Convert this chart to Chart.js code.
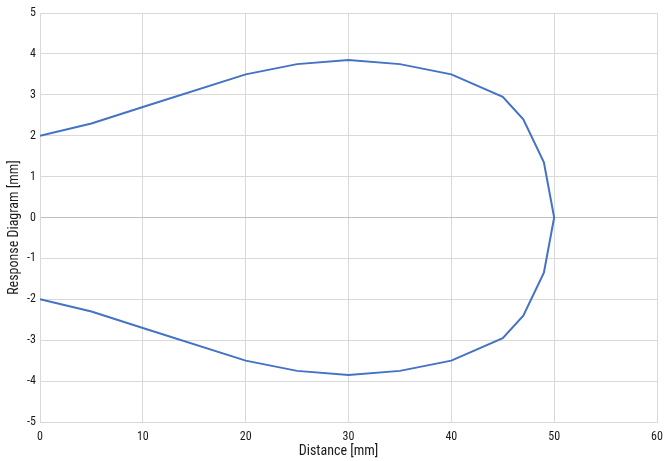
<!DOCTYPE html>
<html><head><meta charset="utf-8">
<script src="https://cdn.jsdelivr.net/npm/chart.js@4/dist/chart.umd.min.js"></script>
<style>html,body{margin:0;padding:0;background:#fff}#wrap{width:664px;height:461px}</style>
</head><body><div id="wrap"><canvas id="c" width="664" height="461"></canvas></div>
<script>
const distance = [0, 5, 10, 20, 25, 30, 35, 40, 45, 47, 49, 50, 49, 47, 45, 40, 35, 30, 25, 20, 10, 5, 0];
const response = [2, 2.3, 2.7, 3.5, 3.75, 3.85, 3.75, 3.5, 2.95, 2.4, 1.35, 0, -1.35, -2.4, -2.95, -3.5, -3.75, -3.85, -3.75, -3.5, -2.7, -2.3, -2];
const xTitle = 'Distance [mm]';
const yTitle = 'Response Diagram [mm]';
const FONT = '"Roboto Condensed", "Liberation Sans Narrow", Roboto, sans-serif';
const TXT = '#1a1a1a';
const pts = distance.map((d, i) => ({x: d, y: response[i]}));
const titlePlugin = {
  id: 'axisTitles',
  afterDraw(chart) {
    const ctx = chart.ctx, a = chart.chartArea;
    ctx.save();
    ctx.fillStyle = TXT;
    ctx.font = '14px ' + FONT;
    ctx.textAlign = 'center';
    ctx.textBaseline = 'middle';
    ctx.fillText(xTitle, (a.left + a.right) / 2 - 10, a.bottom + 29);
    ctx.translate(14, (a.top + a.bottom) / 2 + 10);
    ctx.rotate(-Math.PI / 2);
    ctx.fillText(yTitle, 0, 0);
    ctx.restore();
  }
};
new Chart(document.getElementById('c'), {
  type: 'scatter',
  data: {datasets: [{data: pts, showLine: true, borderColor: '#4472C4', borderWidth: 2, pointRadius: 0, tension: 0, fill: false}]},
  options: {
    responsive: false, animation: false,
    layout: {padding: {top: 13, right: 0, left: 0, bottom: 0}},
    plugins: {legend: {display: false}, tooltip: {enabled: false}},
    scales: {
      x: {type: 'linear', min: 0, max: 60,
        ticks: {stepSize: 10, color: TXT, font: {family: FONT, size: 12}, padding: 8},
        grid: {color: '#d9d9d9', drawTicks: false, lineWidth: 1},
        border: {color: '#d9d9d9'},
        afterFit: s => { s.height = 39; s.paddingRight = 7; }
      },
      y: {min: -5, max: 5,
        ticks: {stepSize: 1, color: TXT, font: {family: FONT, size: 12}, padding: 4},
        grid: {color: c => c.tick && c.tick.value === 0 ? '#bfbfbf' : '#d9d9d9', drawTicks: false, lineWidth: 1},
        border: {color: '#d9d9d9'},
        afterFit: s => { s.width = 40; }
      }
    }
  },
  plugins: [titlePlugin]
});
</script></body></html>
